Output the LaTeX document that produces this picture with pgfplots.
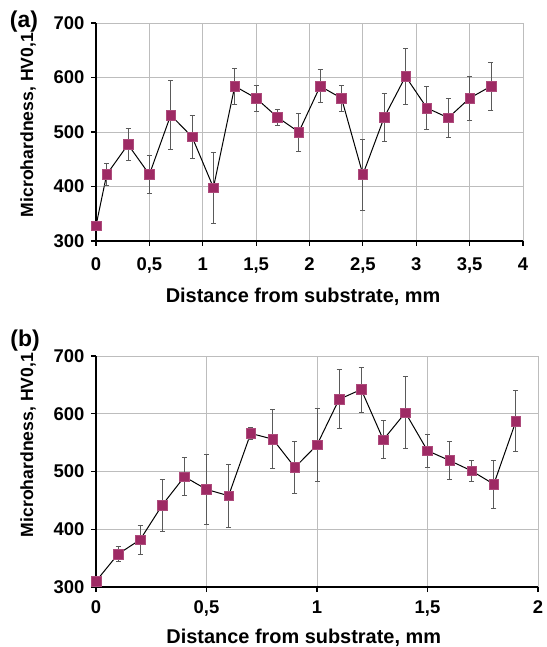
\documentclass[border=0pt]{standalone}
\usepackage{fontspec}
\setmainfont{Liberation Sans}
\usepackage{pgfplots}
\usepackage{pgfplotstable}
\pgfplotsset{compat=1.18}

\definecolor{mk}{HTML}{9E2A64}
\definecolor{grd}{HTML}{BDBDBD}
\definecolor{eb}{HTML}{5A5A5A}

% x  y  err
\pgfplotstableread{
x   y    e
0.0 328  5
0.1 422  20
0.3 477  30
0.5 422  35
0.7 531  63
0.9 491  40
1.1 398  65
1.3 584  33
1.5 562  24
1.7 527  15
1.9 500  35
2.1 584  30
2.3 562  24
2.5 422  65
2.7 527  44
2.9 602  52
3.1 544  39
3.3 526  35
3.5 562  40
3.7 584  44
}\dataA

\pgfplotstableread{
x   y    e
0.0 310  4
0.1 357  13
0.2 382  25
0.3 442  45
0.4 491  33
0.5 469  60
0.6 458  54
0.7 566  10
0.8 556  51
0.9 507  45
1.0 546  63
1.1 625  51
1.2 642  39
1.3 555  33
1.4 602  62
1.5 536  29
1.6 519  33
1.7 501  18
1.8 478  42
1.9 587  53
}\dataB

\pgfplotsset{hv/.style={
  scale only axis,
  axis x line*=bottom, axis y line*=left,
  axis line style={black, line width=1.3pt, -},
  tick align=outside, major tick length=5bp,
  tick style={black, line width=1.1pt},
  grid=major, major grid style={grd, line width=0.8pt},
  ymin=300, ymax=700, ytick={300,400,...,700},
  /pgf/number format/use comma,
  /pgf/number format/assume math mode=true,
  ticklabel style={font=\fontsize{18.5}{20}\selectfont\bfseries},
  yticklabel style={xshift=-3bp},
  xlabel={Distance from substrate, mm},
  ylabel={Microhardness, HV0,1},
  xlabel style={font=\fontsize{20}{22}\selectfont\bfseries, anchor=center},
  ylabel style={font=\fontsize{17.7}{20}\selectfont\bfseries, anchor=center, yshift=68bp},
  clip=false,
}}
\pgfplotsset{ser/.style={
  black, line width=1pt, mark=square*,
  mark size=4.8bp, mark options={fill=mk, draw=mk!85!white, line width=0.5pt},
  error bars/.cd, y dir=both, y explicit,
  error bar style={eb, line width=0.9pt},
  error mark options={rotate=90, eb, mark size=2.5bp, line width=0.8pt},
}}

\begin{document}
\begin{tikzpicture}
\useasboundingbox (0,0) rectangle (547bp,647bp);

\begin{axis}[hv,
  at={(96bp,406bp)}, anchor=south west,
  width=427bp, height=218bp,
  xmin=0, xmax=4, xtick={0,0.5,...,4},
  xticklabel style={yshift=-8bp},
  xlabel style={at={(axis description cs:0.485,0)}, yshift=-56bp},
  ylabel style={at={(axis description cs:0,0.532)}},
]
\addplot[ser] table[x=x, y=y, y error=e] {\dataA};
\end{axis}
\node[font=\fontsize{23}{26}\selectfont\bfseries] at (24bp,625bp) {(a)};

\begin{axis}[hv,
  at={(96bp,60bp)}, anchor=south west,
  width=442bp, height=231bp,
  xmin=0, xmax=2, xtick={0,0.5,...,2},
  xticklabel style={yshift=-5bp},
  xlabel style={at={(axis description cs:0.47,0)}, yshift=-51bp},
  ylabel style={at={(axis description cs:0,0.615)}},
]
\addplot[ser] table[x=x, y=y, y error=e] {\dataB};
\end{axis}
\node[font=\fontsize{23}{26}\selectfont\bfseries] at (25bp,306bp) {(b)};
\end{tikzpicture}
\end{document}
